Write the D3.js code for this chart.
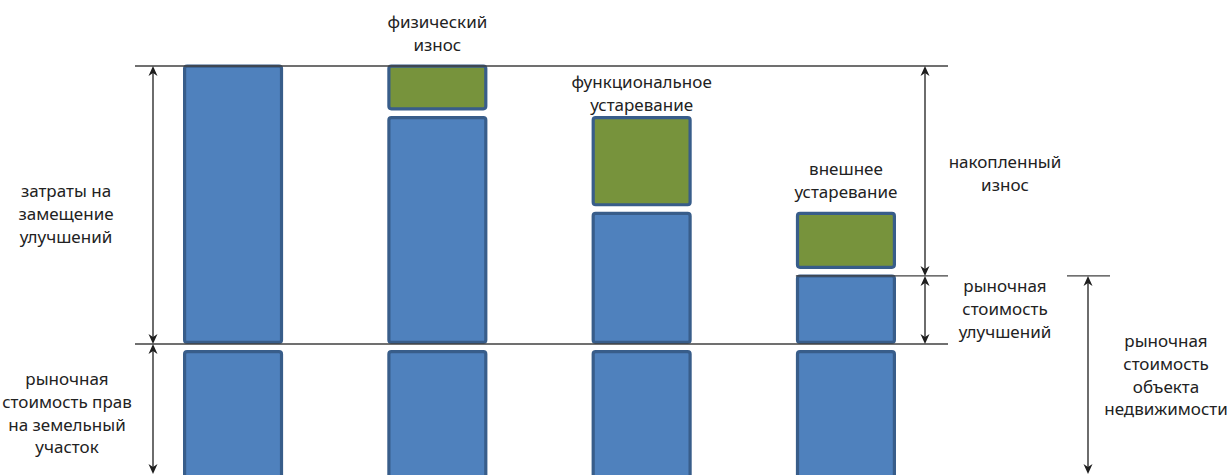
<!DOCTYPE html>
<html>
<head>
<meta charset="utf-8">
<script src="https://cdn.jsdelivr.net/npm/d3@7"></script>
<style>
  html, body { margin: 0; padding: 0; background: #fff; }
  svg { display: block; }
  text { font-family: "Noto Sans", "Open Sans", sans-serif; font-size: 17px; fill: #222; }
</style>
</head>
<body>
<svg id="chart" width="1228" height="475"></svg>
<script>
// Stages of the cost approach, left to right
const stages = ["затраты на замещение", "физический износ", "функциональное устаревание", "внешнее устаревание"];
// Replacement cost of improvements (relative units)
const replacementCost = 100;
// Depreciation components: physical, functional, external
const depreciation = [18.5, 34.5, 22.5];
// Market value of the land rights (relative units)
const landValue = 50;

// Label texts
const depreciationLabels = [["физический", "износ"], ["функциональное", "устаревание"], ["внешнее", "устаревание"]];
const replacementLabel = ["затраты на", "замещение", "улучшений"];
const landLabel = ["рыночная", "стоимость прав", "на земельный", "участок"];
const accumulatedLabel = ["накопленный", "износ"];
const improvementsLabel = ["рыночная", "стоимость", "улучшений"];
const propertyLabel = ["рыночная", "стоимость", "объекта", "недвижимости"];

const W = 1228, H = 475;
const svg = d3.select("#chart");

// value remaining after each stage
const remaining = [replacementCost];
depreciation.forEach(d => remaining.push(remaining[remaining.length - 1] - d));
const improvementsValue = remaining[remaining.length - 1];

const y = d3.scaleLinear().domain([-landValue, replacementCost]).range([483, 66]);
const x = d3.scaleBand().domain(stages).range([183, 896]).paddingInner(0.51).paddingOuter(0);

const BLUE = "#4F81BD", GREEN = "#77933C", EDGE = "#385D8A", SW = 3.2;
const GAP_GREEN = 7, GAP_LAND = 6;

// rectangle given outer edges
function block(x0, x1, y0, y1, fill) {
  svg.append("rect")
    .attr("x", x0 + SW / 2).attr("y", y0 + SW / 2)
    .attr("width", x1 - x0 - SW).attr("height", Math.max(0, y1 - y0 - SW))
    .attr("rx", 2.5).attr("ry", 2.5)
    .attr("fill", fill).attr("stroke", EDGE).attr("stroke-width", SW);
}

stages.forEach((s, i) => {
  const x0 = x(s), x1 = x(s) + x.bandwidth();
  // improvements remaining
  block(x0, x1, y(remaining[i]) - 1.5, y(0), BLUE);
  // land
  block(x0, x1, y(0) + GAP_LAND, y(-landValue), BLUE);
  // depreciation block
  if (i > 0) {
    block(x0, x1, y(remaining[i - 1]) - 1.5, y(remaining[i]) - GAP_GREEN, GREEN);
  }
});

// horizontal reference lines
const LINE = "#404040";
function hline(x0, x1, yy) {
  svg.append("line").attr("x1", x0).attr("x2", x1).attr("y1", yy).attr("y2", yy)
    .attr("stroke", LINE).attr("stroke-width", 1.3);
}
hline(135, 948, y(replacementCost));
hline(135, 948, y(0));
hline(x(stages[3]), 948, y(improvementsValue));
hline(1067, 1110, y(improvementsValue));

// double-headed dimension arrows
const ARROW = "#1e1e1e";
function head(xx, yy, dir) { // dir -1 points up, +1 points down
  const p = d3.path();
  p.moveTo(xx, yy);
  p.lineTo(xx - 4.5, yy - dir * 10);
  p.lineTo(xx, yy - dir * 7);
  p.lineTo(xx + 4.5, yy - dir * 10);
  p.closePath();
  svg.append("path").attr("d", p.toString()).attr("fill", ARROW);
}
function arrow(xx, ya, yb) {
  svg.append("line").attr("x1", xx).attr("x2", xx).attr("y1", ya + 6).attr("y2", yb - 6)
    .attr("stroke", ARROW).attr("stroke-width", 1.3);
  head(xx, ya, -1);
  head(xx, yb, 1);
}
const bottomTip = Math.min(y(-landValue), H - 1);
arrow(153, y(replacementCost), y(0));
arrow(153, y(0), bottomTip);
arrow(925, y(replacementCost), y(improvementsValue));
arrow(925, y(improvementsValue), y(0));
arrow(1088, y(improvementsValue), bottomTip);

// multi-line centred labels
function label(lines, cx, firstBaseline, lh = 22.8) {
  const t = svg.append("text").attr("text-anchor", "middle");
  lines.forEach((l, k) => {
    t.append("tspan").attr("x", cx).attr("y", firstBaseline + k * lh).text(l);
  });
}
const labelLift = [14, 5, 14];
depreciationLabels.forEach((lines, k) => {
  const s = stages[k + 1];
  const top = y(remaining[k]) - 1.5;
  const last = top - labelLift[k];
  label(lines, x(s) + x.bandwidth() / 2, last - (lines.length - 1) * 22.8);
});
label(replacementLabel, 66, 197);
label(landLabel, 67, 385);
label(accumulatedLabel, 1005, 168);
label(improvementsLabel, 1005, 292);
label(propertyLabel, 1166, 347);
</script>
</body>
</html>
